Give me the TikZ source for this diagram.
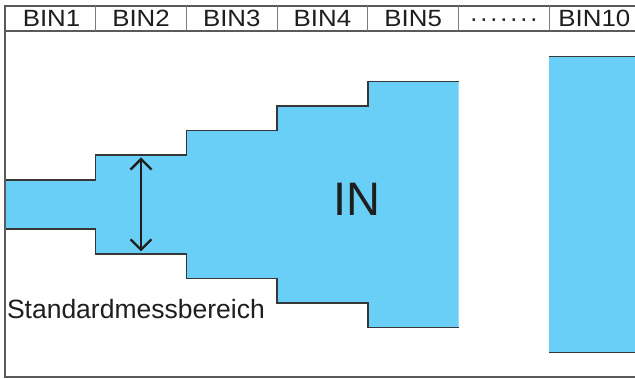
\documentclass[tikz,border=0pt]{standalone}
\usepackage{fontspec}
\setmainfont{Liberation Sans}
\newfontfamily\hdrfont[FakeStretch=1.1]{Liberation Sans}
\usetikzlibrary{arrows.meta}
\definecolor{inblue}{RGB}{106,207,246}
\definecolor{edgecol}{RGB}{55,55,55}
\definecolor{framecol}{RGB}{90,90,90}
\definecolor{txtcol}{RGB}{30,30,30}
\begin{document}
\begin{tikzpicture}[x=1pt,y=-1pt,
  hdr/.style={font=\hdrfont\fontsize{23.5}{27}\selectfont, text=txtcol, inner sep=0pt, anchor=base},
  frameline/.style={draw=framecol, line width=1.3pt},
  divline/.style={draw=framecol!80, line width=1.1pt},
  stair/.style={draw=edgecol, line width=1.5pt, line join=miter},
  ]
\clip (0,0) rectangle (635,379);
\fill[white] (0,0) rectangle (635,379);
% blue stepped region
\fill[inblue] (5,179.9) -- (95.7,179.9) -- (95.7,155.2) -- (186.4,155.2) -- (186.4,130.6)
  -- (277.1,130.6) -- (277.1,105.9) -- (367.8,105.9) -- (367.8,81.3) -- (458.5,81.3)
  -- (458.5,327.7) -- (367.8,327.7) -- (367.8,303.1) -- (277.1,303.1) -- (277.1,278.4)
  -- (186.4,278.4) -- (186.4,253.8) -- (95.7,253.8) -- (95.7,229.1) -- (5,229.1) -- cycle;
\draw[stair] (5,179.9) -- (95.7,179.9) -- (95.7,155.2) -- (186.4,155.2) -- (186.4,130.6)
  -- (277.1,130.6) -- (277.1,105.9) -- (367.8,105.9) -- (367.8,81.3) -- (458.5,81.3);
\draw[stair] (5,229.1) -- (95.7,229.1) -- (95.7,253.8) -- (186.4,253.8) -- (186.4,278.4)
  -- (277.1,278.4) -- (277.1,303.1) -- (367.8,303.1) -- (367.8,327.7) -- (458.5,327.7);
% BIN10 block
\fill[inblue] (549.2,56.7) rectangle (645,352.3);
\draw[stair] (549.2,56.7) -- (645,56.7);
\draw[stair] (549.2,352.3) -- (645,352.3);
% frame
\draw[frameline] (645,6) -- (5,6) -- (5,377) -- (645,377);
\draw[frameline] (5,31) -- (645,31);
\foreach \x in {95.7,186.4,277.1,367.8,458.5,549.2}
  \draw[divline] (\x,6) -- (\x,31);
% header labels
\node[hdr] (b1) at (51.5,26.7) {BIN1};
\node[hdr] (b2) at (141.05,26.7) {BIN2};
\node[hdr] (b3) at (231.75,26.7) {BIN3};
\node[hdr] (b4) at (322.45,26.7) {BIN4};
\node[hdr] (b5) at (413.15,26.7) {BIN5};
\node[hdr] (bd) at (503.85,26.7) {·\kern1.4pt·\kern1.4pt·\kern1.4pt·\kern1.4pt·\kern1.4pt·\kern1.4pt·};
\node[hdr] (b10) at (594.4,26.7) {BIN10};
% arrow
\coordinate (atop) at (141,157.5);
\coordinate (abot) at (141,251.5);
\draw[draw=txtcol, line width=2.3pt, {Straight Barb[length=10.5pt,width=21pt]}-{Straight Barb[length=10.5pt,width=21pt]}] (atop) -- (abot);
% labels
\node[font=\fontsize{47}{52}\selectfont, text=txtcol, inner sep=0pt] (in) at (357,199.5) {IN};
\node[font=\fontsize{26.5}{30}\selectfont, text=txtcol, inner sep=0pt, anchor=base west] (std) at (6.8,318.3) {Standardmessbereich};
\end{tikzpicture}
\end{document}
